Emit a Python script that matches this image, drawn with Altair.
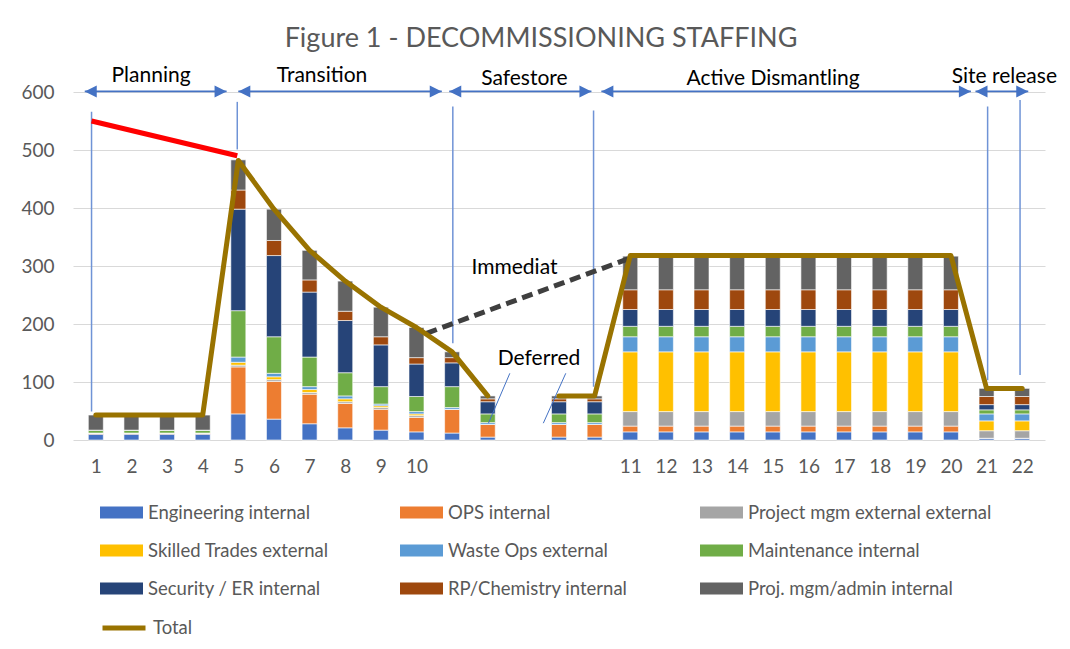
import json
import altair as alt
import pandas as pd

# ---------------- data ----------------
slot_labels = ["1", "2", "3", "4", "5", "6", "7", "8", "9", "10",
               "", "", "", "", "",
               "11", "12", "13", "14", "15", "16", "17", "18", "19", "20", "21", "22"]
slots = list(range(1, len(slot_labels) + 1))

series_names = ["Engineering internal", "OPS internal", "Project mgm external external",
                "Skilled Trades external", "Waste Ops external", "Maintenance internal",
                "Security / ER internal", "RP/Chemistry internal", "Proj. mgm/admin internal"]
series_colors = ["#4472C4", "#ED7D31", "#A5A5A5", "#FFC000", "#5B9BD5", "#70AD47",
                 "#264478", "#9E480E", "#636363"]

N = None
engineering = [10, 10, 10, 10, 45, 36, 28, 21, 17, 14, 12, 5, N, 5, 5] + [14] * 10 + [3, 3]
ops = [2, 2, 2, 2, 81, 65, 51, 42, 36, 25, 41, 22, N, 22, 22] + [10] * 10 + [0, 0]
proj_ext = [0, 0, 0, 0, 3, 3, 3, 3, 3, 3, 0, 0, N, 0, 0] + [25] * 10 + [13, 13]
skilled = [0, 0, 0, 0, 5, 5, 5, 5, 3, 3, 0, 0, N, 0, 0] + [103] * 10 + [17, 17]
waste = [0, 0, 0, 0, 9, 6, 5, 5, 3, 4, 3, 3, N, 3, 3] + [26] * 10 + [12, 12]
maintenance = [5, 5, 5, 5, 80, 63, 51, 40, 30, 26, 36, 15, N, 15, 15] + [18] * 10 + [7, 7]
security = [0, 0, 0, 0, 175, 140, 112, 90, 72, 56, 41, 21, N, 21, 21] + [29] * 10 + [9, 9]
rp_chem = [0, 0, 0, 0, 33, 26, 21, 16, 14, 11, 9, 5, N, 5, 5] + [34] * 10 + [14, 14]
admin = [26, 26, 26, 26, 52, 54, 51, 52, 51, 52, 10, 5, N, 5, 5] + [58] * 10 + [14, 14]
series_values = [engineering, ops, proj_ext, skilled, waste, maintenance, security, rp_chem, admin]

total = [43, 43, 43, 43, 482, 398, 327, 274, 229, 194, 152, 76, N, 76, 76] + [318] * 10 + [89, 89]
total_segment = [1] * 12 + [0] + [2] * 14

# phase annotations
phase_names = ["Planning", "Transition", "Safestore", "Active Dismantling", "Site release"]
phase_x = [2.55, 7.35, 13.03, 20.01, 26.5]
phase_y = [617, 617, 612, 612, 615]
arrow_start = [0.69, 5.0, 10.92, 15.19, 25.69]
arrow_end = [4.67, 10.71, 14.91, 25.56, 27.17]
arrow_level = 601

divider_x = [0.88, 4.97, 11.02, 14.97, 26.03, 26.94]
divider_top = [566, 583, 575, 568, 575, 586]
divider_bottom = [49, 501, 167, 92, 103, 112]

red_x = [0.88, 4.97]
red_y = [550, 490]
dash_x = [10.28, 15.97]
dash_y = [184, 313]

note_names = ["Immediat", "Deferred"]
note_x = [12.75, 13.44]
note_y = [287, 129]
callout_x1 = [12.62, 14.19]
callout_y1 = [115, 115]
callout_x2 = [12.02, 13.56]
callout_y2 = [29, 29]

# ---------------- tables ----------------
rows = []
for k, (name, vals) in enumerate(zip(series_names, series_values)):
    for s, v in zip(slots, vals):
        if v is None:
            continue
        rows.append({"slot": s, "series": name, "order": k, "value": v})
bars_df = pd.DataFrame(rows)

total_df = pd.DataFrame({"slot": slots, "total": total, "seg": total_segment})
total_df = total_df[total_df["total"].notna()].copy()
total_df["name"] = "Total"

phase_df = pd.DataFrame({"name": phase_names, "x": phase_x, "y": phase_y})
arrow_df = pd.DataFrame({"x1": arrow_start, "x2": arrow_end, "y": [arrow_level] * len(arrow_start)})
div_df = pd.DataFrame({"x": divider_x, "y1": divider_top, "y2": divider_bottom})
red_df = pd.DataFrame({"x1": [red_x[0]], "x2": [red_x[1]], "y1": [red_y[0]], "y2": [red_y[1]]})
dash_df = pd.DataFrame({"x1": [dash_x[0]], "x2": [dash_x[1]], "y1": [dash_y[0]], "y2": [dash_y[1]]})
note_df = pd.DataFrame({"name": note_names, "x": note_x, "y": note_y})
call_df = pd.DataFrame({"x1": callout_x1, "x2": callout_x2, "y1": callout_y1, "y2": callout_y2})

FONT = "Lato"
GREY = "#595959"
BLUE = "#4472C4"

xscale = alt.Scale(domain=[0.5, len(slots) + 0.5], nice=False, zero=False)
yscale = alt.Scale(domain=[0, 600], nice=False)

label_lookup = json.dumps(slot_labels)
xaxis = alt.Axis(values=[s for s, l in zip(slots, slot_labels) if l],
                 labelExpr=f"{label_lookup}[datum.value - 1]",
                 grid=False, ticks=False, domain=False, title=None,
                 labelFont=FONT, labelFontSize=19, labelColor=GREY, labelPadding=17)
yaxis = alt.Axis(values=[0, 100, 200, 300, 400, 500, 600], grid=True, gridColor="#D9D9D9",
                 gridWidth=1, ticks=False, domain=False, title=None,
                 labelFont=FONT, labelFontSize=19, labelColor=GREY, labelPadding=19)


def X(field):
    return alt.X(field, scale=xscale, axis=xaxis)


def Y(field):
    return alt.Y(field, scale=yscale, axis=yaxis)


bars = alt.Chart(bars_df).transform_stack(
    stack="value", groupby=["slot"], as_=["y0", "y1"],
    sort=[alt.SortField("order", "ascending")]
).mark_bar(width=15, stroke="white", strokeWidth=0.6).encode(
    x=X("slot:Q"),
    y=Y("y0:Q"),
    y2="y1:Q",
    color=alt.Color("series:N",
                    scale=alt.Scale(domain=series_names, range=series_colors),
                    legend=alt.Legend(orient="none", legendX=27, legendY=399, columns=3,
                                      direction="horizontal",
                                      title=None, symbolType="M-1,-0.28H1V0.28H-1Z",
                                      symbolSize=1849, symbolStrokeWidth=0,
                                      labelFont=FONT, labelFontSize=18.5, labelColor=GREY,
                                      labelLimit=400,
                                      labelOffset=5, gridAlign="all", columnPadding=8,
                                      rowPadding=7)),
)

line = alt.Chart(total_df).mark_line(strokeWidth=5, strokeCap="round", strokeJoin="round").encode(
    x=X("slot:Q"),
    y=Y("total:Q"),
    detail="seg:N",
    stroke=alt.Stroke("name:N", scale=alt.Scale(domain=["Total"], range=["#997300"]),
                      legend=alt.Legend(orient="none", legendX=27, legendY=512, title=None,
                                        symbolType="stroke", symbolSize=1849,
                                        symbolStrokeWidth=5,
                                        labelFont=FONT, labelFontSize=18.5, labelColor=GREY,
                                        labelOffset=5)),
)


def seg_layer(df, **mark):
    return alt.Chart(df).mark_rule(**mark).encode(
        x=X("x1:Q"), x2="x2:Q", y=Y("y1:Q"), y2="y2:Q")


dividers = alt.Chart(div_df).mark_rule(color="#6F93D6", strokeWidth=1.5).encode(
    x=X("x:Q"), y=Y("y1:Q"), y2="y2:Q")

shafts = alt.Chart(arrow_df).mark_rule(color=BLUE, strokeWidth=1.8).encode(
    x=X("x1:Q"), x2="x2:Q", y=Y("y:Q"))
heads_l = alt.Chart(arrow_df).mark_point(shape="M0,0L2,-1L2,1Z", size=144, filled=True,
                                         color=BLUE, opacity=1).encode(
    x=X("x1:Q"), y=Y("y:Q"))
heads_r = alt.Chart(arrow_df).mark_point(shape="M0,0L-2,-1L-2,1Z", size=144, filled=True,
                                         color=BLUE, opacity=1).encode(
    x=X("x2:Q"), y=Y("y:Q"))

red = seg_layer(red_df, color="#FF0000", strokeWidth=5)
dashed = seg_layer(dash_df, color="#3F3F3F", strokeWidth=5, strokeDash=[11, 6])
callouts = seg_layer(call_df, color=BLUE, strokeWidth=1)

phase_text = alt.Chart(phase_df).mark_text(font=FONT, fontSize=21, color="black",
                                           baseline="alphabetic").encode(
    x=X("x:Q"), y=Y("y:Q"), text="name:N")
note_text = alt.Chart(note_df).mark_text(font=FONT, fontSize=21, color="black",
                                         baseline="alphabetic").encode(
    x=X("x:Q"), y=Y("y:Q"), text="name:N")

chart = alt.layer(
    bars, dividers, red, dashed, callouts, line, shafts, heads_l, heads_r, phase_text, note_text
).resolve_legend(color="independent", stroke="independent").properties(
    width=972, height=348,
    title=alt.TitleParams("Figure 1 - DECOMMISSIONING STAFFING", font=FONT, fontSize=27,
                          fontWeight="normal", color=GREY, anchor="middle", dx=-18, offset=12),
    autosize=alt.AutoSizeParams(type="none"),
    padding={"left": 65, "top": 84, "right": 17, "bottom": 198},
).configure_view(stroke=None)

chart.save("out.html", embed_options={"renderer": "svg", "actions": False})
